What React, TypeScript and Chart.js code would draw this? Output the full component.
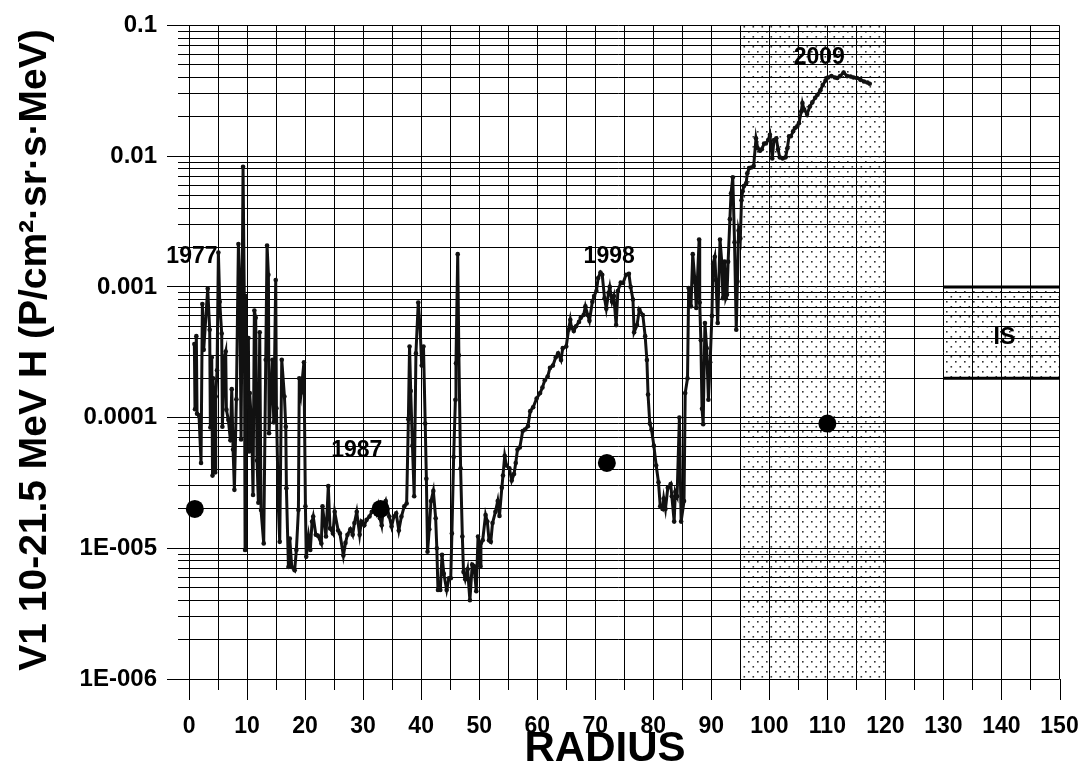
import React, { useEffect, useRef } from 'react';
import { Chart, registerables } from 'chart.js';

Chart.register(...registerables);

const FONT = "'Liberation Sans', Arial, Helvetica, sans-serif";

// Voyager 1 10-21.5 MeV H flux versus heliocentric radius (AU)
const radius: number[] = [
  0.92, 1.03, 1.26, 1.38, 1.72, 2.07, 2.30, 2.53, 3.22, 3.56, 3.68, 3.91, 4.05, 4.14, 4.48, 4.60, 4.83,
  5.06, 5.29, 5.63, 5.75, 6.09, 6.32, 6.44, 6.78, 7.13, 7.36, 7.59, 7.82, 8.16, 8.51, 8.74, 8.97,
  9.31, 9.54, 9.66, 9.77, 10.0, 10.23, 10.35, 10.46, 10.80, 11.03, 11.26, 11.49, 11.72, 11.95,
  12.18, 12.41, 12.87, 13.22, 13.45, 13.68, 13.79, 14.37, 14.60, 14.94, 15.06, 15.40, 15.63,
  15.98, 16.44, 16.67, 16.78, 17.13, 17.36, 17.70, 18.2, 18.5, 18.85, 19.0, 19.3, 19.8, 20.06, 20.2,
  20.6, 20.9, 21.2, 21.4, 21.85, 22.2, 22.8, 23.0, 23.6, 24.0, 24.3, 24.8, 25.1, 25.7, 26.0, 26.6,
  26.96, 27.3, 27.8, 28.2, 28.5, 28.9, 29.4, 29.7, 30.2, 30.6, 31.1, 31.5, 32.0, 32.3, 32.6, 32.9,
  33.2, 33.5, 33.9, 34.2, 34.5, 34.9, 35.3, 35.7, 36.15, 36.6, 37.1, 37.5,
  37.8, 38.0, 38.2, 38.5, 38.8, 39.1, 39.5, 39.8, 40.1, 40.4, 40.7, 40.9, 41.1, 41.4, 41.7, 42.1,
  42.5, 42.7, 42.9, 43.3, 43.6, 43.9, 44.4, 44.8, 45.1, 45.3, 45.6, 45.9, 46.0, 46.3, 46.5, 46.8,
  47.1, 47.3, 47.6, 48.0, 48.4, 48.8, 49.1, 49.5, 49.8, 50.2, 50.3, 50.6, 51.1, 51.4, 51.7, 52.0,
  52.3, 52.8, 53.2, 53.5, 53.9, 54.1, 54.4, 54.7, 55.2, 55.6, 56.0, 56.3, 56.6, 57.0, 57.5, 57.9,
  58.4, 58.8, 59.3, 59.9, 60.5, 60.9, 61.3, 61.8, 62.2, 62.7, 63.2, 63.6, 64.1, 64.4, 65.0, 65.4,
  65.7, 65.9, 66.3, 66.7, 67.2, 67.5, 68.0, 68.3, 68.7, 69.0, 69.5, 69.8, 70.2, 70.5, 70.9, 71.2,
  71.6, 71.9, 72.3, 72.5, 72.9, 73.2, 73.6, 73.9, 74.4, 74.8, 75.3, 75.8, 76.1, 76.5, 76.7, 77.2,
  77.6, 78.2, 78.6, 78.9, 79.1, 79.4, 79.7, 80.1, 80.5, 80.9, 81.2, 81.6, 81.8, 82.1, 82.5, 83.0,
  83.2, 83.6, 83.8, 84.1, 84.5, 84.8, 85.3, 85.5, 85.9, 86.1, 86.5, 86.8, 87.2, 87.4, 87.9, 88.0,
  88.2, 88.4, 88.6, 88.9, 89.2, 89.5, 89.8, 90.1, 90.3, 90.6, 90.8, 91.1, 91.5, 91.8, 92.0, 92.3,
  92.5, 92.7, 92.9, 93.2, 93.4, 93.7, 94.0, 94.3, 94.5, 94.7, 95.0, 95.2, 95.4, 95.6, 96.0, 96.2,
  96.5, 96.9, 97.3, 97.7, 98.0, 98.4, 98.7, 99.1, 99.4, 99.8, 100.1, 100.5, 100.8, 101.2, 101.5,
  101.8, 102.3, 102.8, 103.1, 103.4, 103.7, 104.1, 104.4, 104.8, 105.1, 105.5, 105.7, 106.0, 106.5,
  107.0, 107.4, 107.9, 108.3, 108.8, 109.2, 109.7, 110.1, 110.7, 111.3, 111.7, 112.2, 112.8, 113.4,
  114.0, 114.5, 115.1, 115.7, 116.3, 116.9, 117.3,
];

const flux: number[] = [
  3.66e-4, 1.16e-4, 4.2e-4, 1.07e-4, 1.04e-4, 4.5e-5, 7.4e-4, 3.3e-4, 9.7e-4, 4.7e-4, 8.4e-5, 2.9e-4, 3.6e-5, 2.0e-4, 3.8e-5, 1.45e-4, 2.3e-4,
  1.83e-3, 7.7e-4, 4.4e-4, 8.5e-5, 2.9e-4, 3.2e-4, 1.15e-4, 9.6e-5, 6.7e-5, 1.65e-4, 5.7e-5, 2.8e-5, 1.38e-4, 2.13e-3, 1.13e-3, 6.8e-5,
  8.3e-3, 6.9e-4, 9.7e-6, 8.5e-4, 1.2e-4, 4.06e-4, 5.5e-5, 1.54e-4, 8.5e-5, 2.56e-5, 6.6e-4, 5.8e-4, 4.7e-5, 2.23e-5,
  4.5e-4, 1.96e-5, 1.09e-5, 2.77e-4, 2.07e-3, 1.24e-3, 7.6e-5, 2.77e-4, 9.2e-5, 1.13e-3, 1.18e-4, 2.03e-5, 1.12e-5,
  2.77e-4, 1.45e-4, 8.5e-5, 2.88e-5, 7.2e-6, 1.19e-5, 7.2e-6, 6.8e-6, 9.7e-6, 1.96e-5, 2.0e-4, 1.55e-4, 2.65e-4, 2.1e-5, 8.6e-6,
  1.23e-5, 9.7e-6, 1.6e-5, 1.75e-5, 1.27e-5, 1.25e-5, 1.09e-5, 2.1e-5, 1.23e-5, 3.0e-5, 1.42e-5, 1.3e-5, 1.9e-5, 1.37e-5, 1.3e-5, 8.8e-6,
  1.1e-5, 1.27e-5, 1.4e-5, 1.27e-5, 1.56e-5, 1.9e-5, 1.27e-5, 1.6e-5, 1.5e-5, 1.65e-5, 1.75e-5, 1.9e-5, 2.0e-5, 1.85e-5, 2.1e-5, 1.7e-5,
  1.5e-5, 2.07e-5, 2.3e-5, 2.0e-5, 1.75e-5, 1.47e-5, 1.75e-5, 1.85e-5, 1.37e-5, 1.75e-5, 2.1e-5, 2.2e-5,
  9.7e-5, 3.5e-4, 1.6e-4, 6.1e-5, 2.5e-5, 3.1e-4, 7.6e-4, 5.0e-4, 2.5e-4, 3.5e-4, 9.0e-5, 3.4e-5, 9.4e-6, 1.4e-5, 2.3e-5, 2.75e-5,
  1.7e-5, 1.0e-5, 4.8e-6, 4.8e-6, 8.9e-6, 6.4e-6, 4.8e-6, 5.9e-6, 5.9e-6, 1.3e-5, 5.0e-5, 1.37e-4, 2.6e-4, 1.78e-3, 3.0e-4, 4.1e-5,
  1.23e-5, 6.6e-6, 5.8e-6, 6.9e-6, 4.0e-6, 7.5e-6, 7.3e-6, 4.7e-6, 1.23e-5, 7.3e-6, 1.1e-5, 1.15e-5, 1.8e-5, 1.6e-5, 1.15e-5, 1.12e-5,
  1.56e-5, 1.9e-5, 2.3e-5, 1.77e-5, 2.9e-5, 3.6e-5, 5.1e-5, 4.3e-5, 4.1e-5, 3.3e-5, 3.7e-5, 4.5e-5, 5.7e-5, 5.9e-5, 7.9e-5, 8.1e-5,
  8.6e-5, 1.12e-4, 1.2e-4, 1.4e-4, 1.54e-4, 1.7e-4, 1.93e-4, 2.06e-4, 2.4e-4, 2.5e-4, 2.9e-4, 3.1e-4, 2.76e-4, 3.4e-4, 3.5e-4, 4.7e-4,
  5.6e-4, 4.9e-4, 4.6e-4, 5.0e-4, 5.4e-4, 5.8e-4, 6.1e-4, 7.1e-4, 6.1e-4, 5.5e-4, 7.7e-4, 8.5e-4, 9.3e-4, 1.17e-3, 1.29e-3, 1.24e-3,
  8.2e-4, 6.8e-4, 9.0e-4, 1.0e-3, 7.7e-4, 8.5e-4, 5.1e-4, 9.3e-4, 1.08e-3, 1.07e-3, 1.24e-3, 1.26e-3, 1.0e-3, 8.0e-4, 4.5e-4, 5.1e-4,
  6.7e-4, 6.1e-4, 4.2e-4, 2.76e-4, 1.5e-4, 9.0e-5, 8.1e-5, 6.1e-5, 4.3e-5, 3.2e-5, 2.1e-5, 2.0e-5, 2.4e-5, 2.0e-5, 2.9e-5, 3.1e-5,
  2.5e-5, 1.6e-5, 2.7e-5, 2.5e-5, 1.0e-4, 1.6e-5, 2.3e-5, 1.54e-4, 2.0e-4, 9.8e-4, 7.1e-4, 1.78e-3, 1.08e-3, 6.9e-4, 2.3e-3, 7.6e-4,
  3.9e-4, 1.17e-4, 8.9e-5, 5.3e-4, 3.4e-4, 1.37e-4, 2.65e-4, 6.0e-4, 1.5e-3, 1.7e-3, 1.13e-3, 5.3e-4, 2.3e-3, 1.56e-3, 8.2e-4, 1.56e-3,
  8.2e-4, 8.7e-4, 1.56e-3, 3.3e-3, 5.2e-3, 6.9e-3, 2.2e-3, 4.7e-4, 1.1e-3, 2.7e-3, 2.35e-3, 4.6e-3, 5.4e-3, 5.9e-3, 6.2e-3, 7.4e-3,
  8.1e-3, 8.2e-3, 8.4e-3, 1.37e-2, 1.15e-2, 1.1e-2, 1.13e-2, 1.25e-2, 1.25e-2, 1.33e-2, 1.46e-2, 9.6e-3, 1.33e-2, 1.37e-2, 1.13e-2,
  9.8e-3, 9.6e-3, 9.8e-3, 1.15e-2, 1.42e-2, 1.42e-2, 1.55e-2, 1.64e-2, 1.69e-2, 1.79e-2, 2.2e-2, 2.55e-2, 2.27e-2, 2.1e-2,
  2.4e-2, 2.58e-2, 2.8e-2, 2.95e-2, 3.2e-2, 3.5e-2, 3.8e-2, 4.0e-2, 4.1e-2, 4.0e-2, 3.97e-2, 4.1e-2, 4.37e-2, 4.1e-2,
  4.07e-2, 4.0e-2, 3.97e-2, 3.84e-2, 3.73e-2, 3.66e-2, 3.58e-2,
];

// Large reference markers
const markerRadius: number[] = [1.0, 33.0, 72.0, 110.0];
const markerFlux: number[] = [2.0e-5, 2.0e-5, 4.5e-5, 9.0e-5];

// Year annotations (anchored in data coordinates)
const yearText: string[] = ['1977', '1987', '1998', '2009'];
const yearRadius: number[] = [0.5, 28.9, 72.4, 108.6];
const yearFlux: number[] = [1.71e-3, 5.6e-5, 1.71e-3, 5.7e-2];

// Axis ticks
const xTickValues: number[] = [0, 5, 10, 15, 20, 25, 30, 35, 40, 45, 50, 55, 60, 65, 70, 75, 80, 85, 90, 95, 100, 105, 110, 115, 120, 125, 130, 135, 140, 145, 150];
const xMajorLabels: string[] = ['0', '10', '20', '30', '40', '50', '60', '70', '80', '90', '100', '110', '120', '130', '140', '150'];
const yDecades: number[] = [1e-6, 1e-5, 1e-4, 1e-3, 1e-2, 1e-1];
const yDecadeLabels: string[] = ['1E-006', '1E-005', '0.0001', '0.001', '0.01', '0.1'];

// Shaded heliosheath band and interstellar (IS) box
const bandRadius: number[] = [95, 120];
const isRadius: number[] = [130, 150];
const isFlux: number[] = [2e-4, 1e-3];
const isLabelAt: number[] = [140.5, 4.1e-4];

const isDecade = (v: number) => {
  if (!v || v <= 0) return false;
  const l = Math.log10(v);
  return Math.abs(l - Math.round(l)) < 1e-6;
};

function makeDotPattern(ctx: CanvasRenderingContext2D): CanvasPattern | string {
  const c = document.createElement('canvas');
  c.width = 9;
  c.height = 10;
  const p = c.getContext('2d');
  if (!p) return 'rgba(0,0,0,0.1)';
  p.fillStyle = '#333';
  p.fillRect(1, 1, 1.6, 1.6);
  p.fillRect(5.5, 6, 1.6, 1.6);
  return ctx.createPattern(c, 'repeat') || 'rgba(0,0,0,0.1)';
}

export default function App() {
  const canvasRef = useRef<HTMLCanvasElement | null>(null);

  useEffect(() => {
    const canvas = canvasRef.current;
    if (!canvas) return;
    const ctx0 = canvas.getContext('2d');
    if (!ctx0) return;
    const pattern = makeDotPattern(ctx0);

    const decor = {
      id: 'decor',
      beforeDraw(chart: any) {
        const { ctx, chartArea, scales } = chart;
        const xs = scales.x;
        const ys = scales.y;
        ctx.save();
        ctx.fillStyle = pattern;
        const bx0 = xs.getPixelForValue(bandRadius[0]);
        const bx1 = xs.getPixelForValue(bandRadius[1]);
        ctx.fillRect(bx0, chartArea.top, bx1 - bx0, chartArea.bottom - chartArea.top);
        const ix0 = xs.getPixelForValue(isRadius[0]);
        const ix1 = xs.getPixelForValue(isRadius[1]);
        const iy0 = ys.getPixelForValue(isFlux[1]);
        const iy1 = ys.getPixelForValue(isFlux[0]);
        ctx.fillRect(ix0, iy0, ix1 - ix0, iy1 - iy0);
        ctx.restore();
      },
      afterDraw(chart: any) {
        const { ctx, chartArea, scales } = chart;
        const xs = scales.x;
        const ys = scales.y;
        ctx.save();
        // x tick marks
        ctx.strokeStyle = '#000';
        ctx.lineWidth = 1;
        xTickValues.forEach((v) => {
          const px = Math.round(xs.getPixelForValue(v)) + 0.5;
          const len = v % 10 === 0 ? 21 : 11;
          ctx.beginPath();
          ctx.moveTo(px, chartArea.bottom);
          ctx.lineTo(px, chartArea.bottom + len);
          ctx.stroke();
        });
        // IS box bounding lines
        ctx.lineWidth = 3;
        const ix0 = xs.getPixelForValue(isRadius[0]);
        const ix1 = xs.getPixelForValue(isRadius[1]);
        isFlux.forEach((f) => {
          const py = ys.getPixelForValue(f);
          ctx.beginPath();
          ctx.moveTo(ix0, py);
          ctx.lineTo(ix1, py);
          ctx.stroke();
        });
        // annotations
        ctx.fillStyle = '#000';
        ctx.font = `bold 23px ${FONT}`;
        ctx.textAlign = 'center';
        ctx.textBaseline = 'middle';
        yearText.forEach((t, i) => {
          ctx.fillText(t, xs.getPixelForValue(yearRadius[i]), ys.getPixelForValue(yearFlux[i]));
        });
        ctx.fillText('IS', xs.getPixelForValue(isLabelAt[0]), ys.getPixelForValue(isLabelAt[1]));
        // axis titles
        ctx.font = `bold 42px ${FONT}`;
        ctx.fillText('RADIUS', 605, 749);
        ctx.translate(35, 350);
        ctx.rotate(-Math.PI / 2);
        ctx.font = `bold 39px ${FONT}`;
        ctx.fillText('V1 10-21.5 MeV H (P/cm\u00B2\u00B7sr\u00B7s\u00B7MeV)', 0, 0);
        ctx.restore();
      },
    };

    const series = radius.map((r, i) => ({ x: r, y: flux[i] }));
    const markers = markerRadius.map((r, i) => ({ x: r, y: markerFlux[i] }));

    const chart = new Chart(canvas, {
      type: 'scatter',
      data: {
        datasets: [
          {
            data: markers,
            showLine: false,
            pointRadius: 9,
            pointBackgroundColor: '#000',
            pointBorderColor: '#000',
            pointBorderWidth: 0,
          },
          {
            data: series,
            showLine: true,
            borderColor: '#111',
            borderWidth: 3,
            pointRadius: 2.3,
            pointBackgroundColor: '#111',
            pointBorderColor: '#111',
            pointBorderWidth: 0,
            tension: 0,
          },
        ],
      },
      options: {
        responsive: false,
        animation: false,
        devicePixelRatio: 1,
        layout: { padding: { top: 25.5, right: 20.5, left: 0, bottom: 0 } },
        plugins: { legend: { display: false }, tooltip: { enabled: false } },
        events: [],
        scales: {
          x: {
            type: 'linear',
            min: -1.9,
            max: 150,
            afterBuildTicks: (s: any) => {
              s.ticks = xTickValues.map((v) => ({ value: v }));
            },
            afterFit: (s: any) => {
              s.height = 95;
              s.paddingLeft = 0;
              s.paddingRight = 0;
            },
            grid: { color: '#000', lineWidth: 1, drawTicks: false },
            border: { display: false },
            ticks: {
              autoSkip: false,
              maxRotation: 0,
              minRotation: 0,
              padding: 34,
              color: '#000',
              font: { family: FONT, size: 23, weight: 'bold' },
              callback: (v: any) => (Number(v) % 10 === 0 ? xMajorLabels[Number(v) / 10] : ''),
            },
          },
          y: {
            type: 'logarithmic',
            min: 1e-6,
            max: 0.1,
            afterBuildTicks: (s: any) => {
              const t: { value: number }[] = [];
              for (let i = 0; i < yDecades.length - 1; i++) {
                for (let m = 1; m <= 9; m++) t.push({ value: m * yDecades[i] });
              }
              t.push({ value: yDecades[yDecades.length - 1] });
              s.ticks = t;
            },
            afterFit: (s: any) => {
              s.width = 178;
              s.paddingTop = 0;
              s.paddingBottom = 0;
            },
            grid: {
              color: '#000',
              lineWidth: 1,
              drawTicks: true,
              tickLength: 11,
              tickColor: (c: any) => (c.tick && isDecade(c.tick.value) ? '#000' : 'rgba(0,0,0,0)'),
            },
            border: { display: false },
            ticks: {
              autoSkip: false,
              padding: 10,
              color: '#000',
              font: { family: FONT, size: 24, weight: 'bold' },
              callback: (v: any) => {
                const n = Number(v);
                if (!isDecade(n)) return '';
                return yDecadeLabels[Math.round(Math.log10(n)) + 6];
              },
            },
          },
        },
      },
      plugins: [decor],
    } as any);

    return () => chart.destroy();
  }, []);

  return (
    <div style={{ position: 'absolute', left: 0, top: 0, width: 1080, height: 774, background: '#fff' }}>
      <canvas ref={canvasRef} width={1080} height={774} style={{ display: 'block', width: 1080, height: 774 }} />
    </div>
  );
}
